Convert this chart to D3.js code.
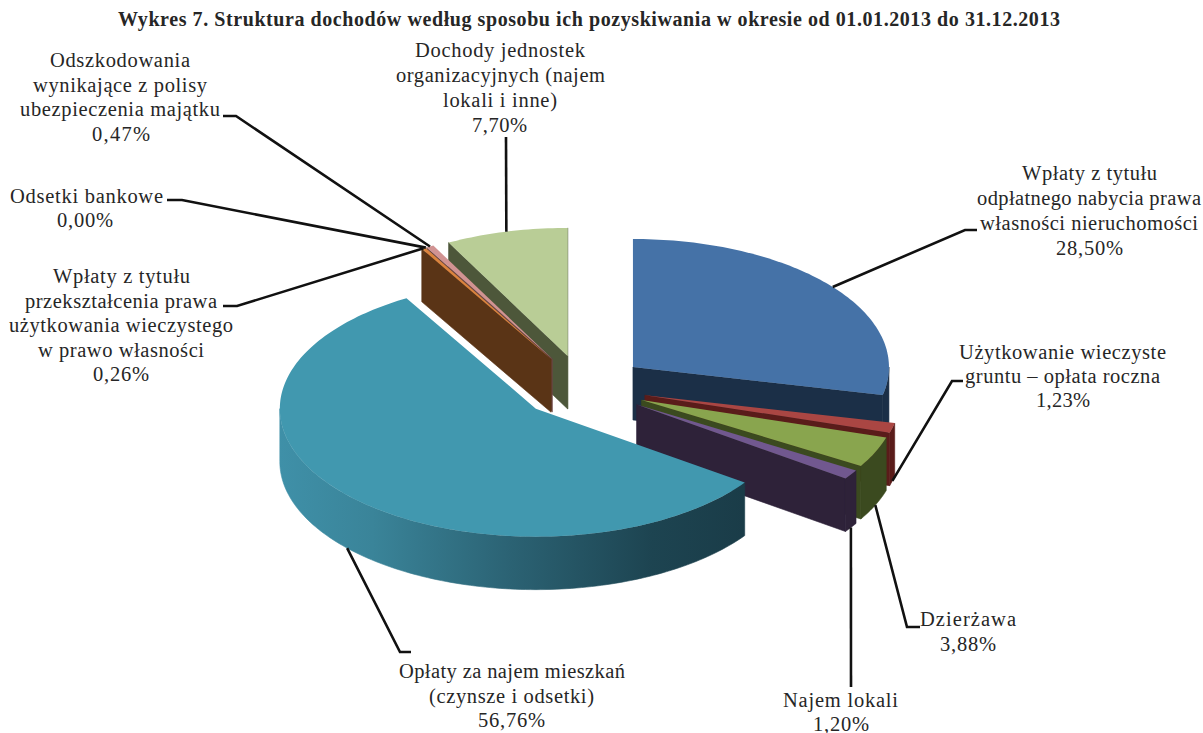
<!DOCTYPE html>
<html>
<head>
<meta charset="utf-8">
<script src="https://cdn.jsdelivr.net/npm/d3@7"></script>
<style>
  html, body { margin: 0; padding: 0; background: #fff; }
  svg { display: block; }
  text { font-family: "Liberation Serif", serif; fill: #262626; }
</style>
</head>
<body>
<div id="chart"></div>
<script>
const title = "Wykres 7. Struktura dochodów według sposobu ich pozyskiwania w okresie od 01.01.2013 do 31.12.2013";

const categories = [
  ["Wpłaty z tytułu", "odpłatnego nabycia prawa", "własności nieruchomości"],
  ["Użytkowanie wieczyste", "gruntu – opłata roczna"],
  ["Dzierżawa"],
  ["Najem lokali"],
  ["Opłaty za najem mieszkań", "(czynsze i odsetki)"],
  ["Wpłaty z tytułu", "przekształcenia prawa", "użytkowania wieczystego", "w prawo własności"],
  ["Odsetki bankowe"],
  ["Odszkodowania", "wynikające z polisy", "ubezpieczenia majątku"],
  ["Dochody jednostek", "organizacyjnych (najem", "lokali i inne)"]
];
const values = [28.50, 1.23, 3.88, 1.20, 56.76, 0.26, 0.00, 0.47, 7.70];
const topColors = ["#4572a7", "#aa4643", "#89a54e", "#71588f", "#4198af", "#db843d", "#93a9cf", "#d19392", "#b9cd96"];
const wallColors = ["#1b2f47", "#5a1c1a", "#3b4a1f", "#2e2239", "#1b3e4a", "#5a3416", "#3c4a60", "#6a4443", "#4d573a"];

// where each label sits: first baseline, line step, [left, right] of every line, leader elbow
const labelPos = [
  { y: 180, step: 25, spans: [[1022, 1157], [977, 1201], [980, 1198], [1056, 1123]], elbow: [[977, 230], [965, 230]] },
  { y: 359, step: 24.2, spans: [[959, 1166], [965, 1160], [1036, 1090]], elbow: [[963, 381], [952, 381]] },
  { y: 626, step: 25, spans: [[920, 1016], [940, 996]], elbow: [[920, 627], [907, 627]] },
  { y: 707, step: 23.5, spans: [[783, 898], [813, 869]], elbow: [[851, 687]] },
  { y: 678, step: 24.5, spans: [[399, 625], [429, 594], [478, 545]], elbow: [[411, 652], [400, 652]] },
  { y: 283, step: 24.5, spans: [[53, 190], [25, 217], [9, 233], [38, 204], [93, 149]], elbow: [[223, 306], [237, 306]] },
  { y: 203, step: 24, spans: [[10, 163], [57, 113]], elbow: [[167, 200], [182, 200]] },
  { y: 67, step: 24.6, spans: [[50, 190], [33, 207], [20, 220], [92, 150]], elbow: [[223, 116], [236, 116]] },
  { y: 57, step: 25, spans: [[415, 585], [396, 605], [443, 557], [472, 527]], elbow: [[506, 137]] }
];

const width = 1203, height = 733;
const cx = 583, cy = 387, rx = 256, ry = 128, depth = 53, explode = 0.25;
const drawOrder = [8, 7, 6, 5, 0, 1, 2, 3, 4];

const svg = d3.select("#chart").append("svg")
  .attr("width", width).attr("height", height);

const grad = svg.append("defs").append("linearGradient")
  .attr("id", "tealWall").attr("gradientUnits", "userSpaceOnUse")
  .attr("x1", 279).attr("x2", 745).attr("y1", 0).attr("y2", 0);
grad.selectAll("stop")
  .data([[0, "#3f90a8"], [0.2, "#3a8499"], [0.5, "#2b6273"], [0.8, "#1d4451"], [1, "#1a3c48"]])
  .join("stop")
  .attr("offset", d => d[0]).attr("stop-color", d => d[1]);

const pie = d3.pie().sort(null).value(d => d);
const arcs = pie(values);
const line = d3.line();

// apex of a slice after it is pulled out along its mid angle
function apex(d) {
  const m = (d.startAngle + d.endAngle) / 2;
  return [cx + explode * rx * Math.sin(m), cy - explode * ry * Math.cos(m)];
}
function rimPt(c, a, dy = 0) {
  return [c[0] + rx * Math.sin(a), c[1] - ry * Math.cos(a) + dy];
}
function rimPts(c, a0, a1, dy = 0) {
  const n = Math.max(2, Math.ceil((a1 - a0) / 0.02));
  return d3.range(n + 1).map(i => rimPt(c, a0 + (a1 - a0) * i / n, dy));
}

const slices = svg.append("g");
drawOrder.forEach(i => {
  const d = arcs[i];
  if (d.endAngle - d.startAngle <= 0) return;
  const c = apex(d);
  const g = slices.append("g");
  const wall = i === 4 ? "url(#tealWall)" : wallColors[i];

  // radial wall seen from the front
  const radial = a => {
    const p = rimPt(c, a);
    return line([c, p, [p[0], p[1] + depth], [c[0], c[1] + depth]]) + "Z";
  };
  const addWall = (path, fill) => g.append("path").attr("d", path)
    .attr("fill", fill).attr("stroke", fill).attr("stroke-width", 0.6);
  if (Math.sin(d.endAngle) > 0) addWall(radial(d.endAngle), wallColors[i]);
  if (Math.sin(d.startAngle) < 0) addWall(radial(d.startAngle), wallColors[i]);

  // outer rim, only the part on the near side
  const a0 = Math.max(d.startAngle, Math.PI / 2);
  const a1 = Math.min(d.endAngle, Math.PI * 1.5);
  if (a1 > a0) {
    const pts = rimPts(c, a0, a1).concat(rimPts(c, a0, a1, depth).reverse());
    addWall(line(pts) + "Z", wall);
  }

  // top face
  const top = [c].concat(rimPts(c, d.startAngle, d.endAngle));
  g.append("path").attr("d", line(top) + "Z").attr("fill", topColors[i]);
});

// leader lines run from the rim at the slice's mid angle
const leaders = svg.append("g");
arcs.forEach((d, i) => {
  const m = (d.startAngle + d.endAngle) / 2;
  const near = Math.cos(m) < 0;
  const end = rimPt(apex(d), m, near ? depth : 0);
  leaders.append("path")
    .attr("d", line(labelPos[i].elbow.concat([end])))
    .attr("fill", "none").attr("stroke", "#111").attr("stroke-width", 2.6);
});

// labels, stretched to the widths of the original lines
const fmt = v => v.toFixed(2).replace(".", ",") + "%";
const labels = svg.append("g").attr("font-size", 20.5);
categories.forEach((lines, i) => {
  const pos = labelPos[i];
  labels.selectAll(null).data(lines.concat([fmt(values[i])])).enter().append("text")
    .attr("x", (t, k) => pos.spans[k][0])
    .attr("y", (t, k) => pos.y + k * pos.step)
    .attr("textLength", (t, k) => pos.spans[k][1] - pos.spans[k][0])
    .attr("lengthAdjust", "spacing")
    .text(t => t);
});

svg.append("text")
  .attr("x", 118).attr("y", 26)
  .attr("textLength", 942).attr("lengthAdjust", "spacing")
  .attr("font-size", 20).attr("font-weight", "bold")
  .text(title);
</script>
</body>
</html>
